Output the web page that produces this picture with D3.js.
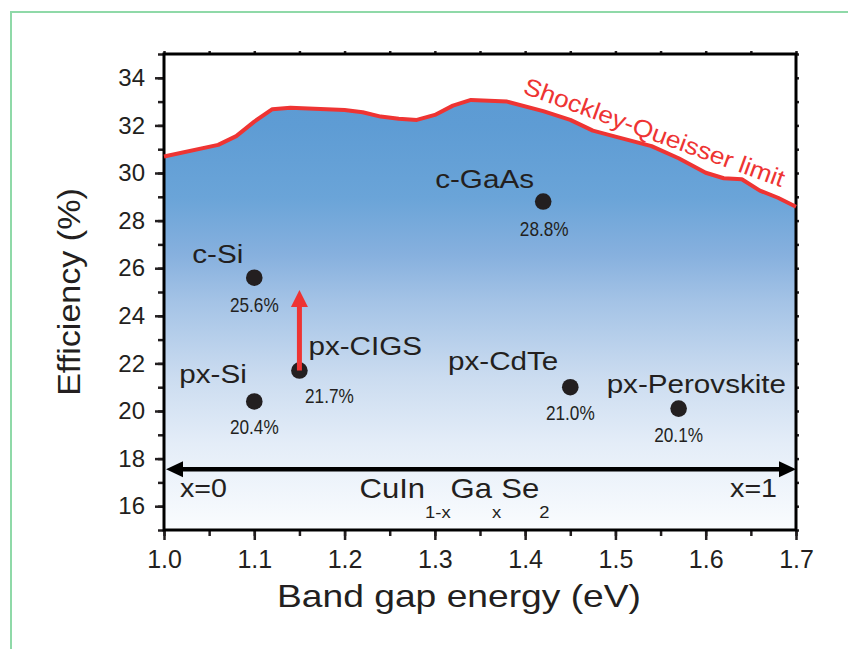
<!DOCTYPE html>
<html lang="en">
<head>
<meta charset="UTF-8">
<title>Efficiency vs band gap</title>
<script src="https://cdn.jsdelivr.net/npm/d3@7"></script>
<style>
  body { margin: 0; background: #fff; }
  svg text { font-family: "Liberation Sans", Arial, sans-serif; }
</style>
</head>
<body>
<svg id="chart" width="848" height="649"></svg>
<script>
// Shockley-Queisser limit
const sqGap = [1.00, 1.06, 1.08, 1.10, 1.12, 1.14, 1.20, 1.22, 1.24, 1.26, 1.28, 1.30, 1.32, 1.34, 1.38,
               1.42, 1.45, 1.475, 1.50, 1.54, 1.57, 1.60, 1.62, 1.64, 1.66, 1.68, 1.70];
const sqEff = [30.69, 31.18, 31.55, 32.16, 32.68, 32.74, 32.65, 32.55, 32.37, 32.28, 32.23, 32.44, 32.83, 33.07, 33.00,
               32.60, 32.23, 31.78, 31.53, 31.13, 30.62, 30.01, 29.78, 29.74, 29.26, 28.96, 28.58];

// record cells
const cellNames = ["c-Si", "px-Si", "px-CIGS", "c-GaAs", "px-CdTe", "px-Perovskite"];
const cellGap   = [1.10, 1.10, 1.15, 1.42, 1.45, 1.57];
const cellEff   = [25.6, 20.4, 21.7, 28.8, 21.0, 20.1];

const xTicks = [1.0, 1.1, 1.2, 1.3, 1.4, 1.5, 1.6, 1.7];
const yTicks = [16, 18, 20, 22, 24, 26, 28, 30, 32, 34];

const svg = d3.select("#chart");
const W = 848, H = 649;
const m = {left: 164, top: 54, right: 796, bottom: 530};

// light green frame around the figure
svg.append("rect")
    .attr("x", 11).attr("y", 12).attr("width", W + 20).attr("height", H + 20)
    .attr("fill", "none").attr("stroke", "#8fd9a8").attr("stroke-width", 2);

const x = d3.scaleLinear().domain([1.0, 1.7]).range([m.left, m.right]);
const y = d3.scaleLinear().domain([15, 35]).range([m.bottom, m.top]);

// helper for stretched / narrowed text
function label(sel, str, px, py, size, sx, anchor, fill) {
    return sel.append("text")
        .attr("transform", `translate(${px},${py}) scale(${sx},1)`)
        .attr("text-anchor", anchor || "start")
        .attr("fill", fill || "#231f20")
        .style("font-size", size + "px")
        .text(str);
}

// gradient under the limit
const defs = svg.append("defs");
const grad = defs.append("linearGradient")
    .attr("id", "blueFade")
    .attr("gradientUnits", "userSpaceOnUse")
    .attr("x1", 0).attr("x2", 0).attr("y1", m.top).attr("y2", m.bottom);
[[0.00, "#5a99d2"], [0.15, "#5e9cd4"], [0.30, "#6aa4d8"], [0.42, "#86b0de"], [0.52, "#a4c3e6"],
 [0.68, "#cbdcf0"], [0.82, "#e4edf8"], [1.00, "#fafcfe"]]
  .forEach(s => grad.append("stop").attr("offset", s[0]).attr("stop-color", s[1]));

const sqData = sqGap.map((g, i) => ({g: g, e: sqEff[i]}));

svg.append("path")
    .datum(sqData)
    .attr("fill", "url(#blueFade)")
    .attr("d", d3.area().x(d => x(d.g)).y0(y(15)).y1(d => y(d.e)));

// axes: major + minor ticks
function styleAxis(g) {
    g.select(".domain").remove();
    g.selectAll(".tick line").attr("stroke", "#231f20").attr("stroke-width", 2.5);
    g.selectAll(".tick text").attr("fill", "#231f20");
}

const minorX = d3.range(0, 15).map(i => 1.0 + i * 0.05);
const minorY = d3.range(15, 36);

svg.append("g").attr("transform", `translate(0,${m.bottom})`)
    .call(d3.axisBottom(x).tickValues(minorX).tickSize(6).tickFormat(""))
    .call(styleAxis);
svg.append("g").attr("transform", `translate(0,${m.bottom})`)
    .call(d3.axisBottom(x).tickValues(xTicks).tickSize(10).tickPadding(10).tickFormat(d3.format(".1f")))
    .call(styleAxis)
    .call(g => g.selectAll("text").style("font-size", "25px"));

svg.append("g").attr("transform", `translate(${m.left},0)`)
    .call(d3.axisLeft(y).tickValues(minorY).tickSize(6).tickFormat(""))
    .call(styleAxis);
svg.append("g").attr("transform", `translate(${m.left},0)`)
    .call(d3.axisLeft(y).tickValues(yTicks).tickSize(9).tickPadding(10).tickFormat(d3.format("d")))
    .call(styleAxis)
    .call(g => g.selectAll("text").style("font-size", "24px"));

svg.append("g").attr("transform", `translate(0,${m.top})`)
    .call(d3.axisTop(x).tickValues(minorX).tickSize(3).tickFormat(""))
    .call(styleAxis);
svg.append("g").attr("transform", `translate(${m.right},0)`)
    .call(d3.axisRight(y).tickValues(minorY).tickSize(3).tickFormat(""))
    .call(styleAxis);

// plot frame
svg.append("rect")
    .attr("x", m.left).attr("y", m.top)
    .attr("width", m.right - m.left).attr("height", m.bottom - m.top)
    .attr("fill", "none").attr("stroke", "#000").attr("stroke-width", 3);

// limit line
svg.append("path")
    .datum(sqData)
    .attr("fill", "none")
    .attr("stroke", "#ee3433")
    .attr("stroke-width", 4)
    .attr("stroke-linejoin", "round")
    .attr("d", d3.line().x(d => x(d.g)).y(d => y(d.e)));

label(svg, "Shockley-Queisser limit", 0, 0, 24, 1.1, "start", "#ee3433")
    .attr("transform", `translate(${x(1.3965)},${y(33.36)}) rotate(20) scale(1.1,1)`);

// composition arrow CuIn(1-x)Ga(x)Se2
const arrowY = y(17.55);
svg.append("line")
    .attr("x1", x(1.0) + 14).attr("x2", x(1.7) - 14)
    .attr("y1", arrowY).attr("y2", arrowY)
    .attr("stroke", "#000").attr("stroke-width", 4.5);
svg.append("path")
    .attr("d", `M${x(1.0) + 2},${arrowY} l17,-8 v16 Z`).attr("fill", "#000");
svg.append("path")
    .attr("d", `M${x(1.7)},${arrowY} l-17,-8 v16 Z`).attr("fill", "#000");

label(svg, "x=0", x(1.0) + 16, arrowY + 28, 26, 1.1, "start");
label(svg, "x=1", x(1.7) - 19, arrowY + 28, 26, 1.1, "end");

const formula = svg.append("text")
    .attr("transform", `translate(${x(1.2165)},${arrowY + 29}) scale(1.15,1)`)
    .attr("fill", "#231f20")
    .style("font-size", "27px");
formula.append("tspan").text("CuIn");
formula.append("tspan").attr("dy", 20).style("font-size", "16px").text("1-x");
formula.append("tspan").attr("dy", -20).text("Ga");
formula.append("tspan").attr("dy", 20).style("font-size", "16px").text("x");
formula.append("tspan").attr("dy", -20).text("Se");
formula.append("tspan").attr("dy", 20).style("font-size", "16px").text("2");

// cells
const cells = cellNames.map((n, i) => ({name: n, g: cellGap[i], e: cellEff[i]}));

svg.append("g").selectAll("circle")
    .data(cells)
    .enter().append("circle")
    .attr("cx", d => x(d.g))
    .attr("cy", d => y(d.e))
    .attr("r", 8.3)
    .attr("fill", "#231f20");

// CIGS improvement arrow
const cigs = cells[2];
const tipY = y(25.08);
svg.append("line")
    .attr("x1", x(cigs.g)).attr("x2", x(cigs.g))
    .attr("y1", y(cigs.e)).attr("y2", tipY + 15)
    .attr("stroke", "#ee3433").attr("stroke-width", 5);
svg.append("path")
    .attr("d", `M${x(cigs.g)},${tipY} l8.5,17 h-17 Z`)
    .attr("fill", "#ee3433");

// name and value labels, offsets from the dot
const nameOff = {
    "c-Si": [-62, -15, "start"], "px-Si": [-75, -18, "start"], "px-CIGS": [9, -16, "start"],
    "c-GaAs": [-108, -14, "start"], "px-CdTe": [-12, -17, "end"], "px-Perovskite": [-72, -16, "start"]
};
const valOff = {
    "c-Si": [0, 34], "px-Si": [0, 33], "px-CIGS": [30, 32],
    "c-GaAs": [1, 34], "px-CdTe": [0, 33], "px-Perovskite": [0, 33]
};

cells.forEach(d => {
    const cx = x(d.g), cy = y(d.e);
    const no = nameOff[d.name], vo = valOff[d.name];
    label(svg, d.name, cx + no[0], cy + no[1], 26, 1.14, no[2]);
    label(svg, d.e.toFixed(1) + "%", cx + vo[0], cy + vo[1], 21, 0.82, "middle");
});

// axis titles
label(svg, "Band gap energy (eV)", 459, 607, 31, 1.2, "middle");
svg.append("text")
    .attr("transform", `translate(80,292) rotate(-90) scale(1.1,1)`)
    .attr("text-anchor", "middle")
    .attr("fill", "#231f20")
    .style("font-size", "31px")
    .text("Efficiency (%)");
</script>
</body>
</html>
